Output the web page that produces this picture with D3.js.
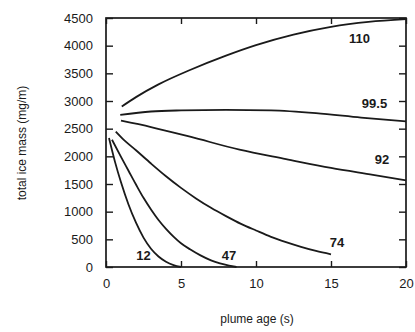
<!DOCTYPE html>
<html><head><meta charset="utf-8">
<script src="https://cdn.jsdelivr.net/npm/d3@7"></script>
<style>body{margin:0;background:#fff}svg{display:block}</style>
</head><body>
<svg id="c" width="415" height="332"></svg>
<script>
const xTicks = [0, 5, 10, 15, 20];
const yTicks = [0, 500, 1000, 1500, 2000, 2500, 3000, 3500, 4000, 4500];
const seriesNames = ["110", "99.5", "92", "74", "47", "12"];
const s110 = [[1.05,2900],[2,3070],[3.5,3300],[5.6,3560],[8,3820],[10,4010],[12.5,4200],[15,4340],[17.5,4430],[20,4480]];
const s99 = [[0.95,2750],[3,2810],[5,2830],[8,2840],[11,2830],[14,2780],[17,2700],[20,2630]];
const s92 = [[1.0,2645],[3,2530],[5.6,2355],[8.9,2120],[12,1950],[15,1790],[17.8,1665],[20,1565]];
const s74 = [[0.65,2445],[1.1,2320],[2,2110],[3,1870],[4,1640],[5,1430],[6,1240],[7,1070],[8,920],[9,780],[10,660],[11,545],[12,450],[13,365],[14,290],[15,230]];
const s47 = [[0.4,2300],[1,1990],[1.5,1740],[2,1490],[2.5,1250],[3,1040],[3.5,850],[4,690],[4.5,550],[5,430],[5.6,320],[6.3,210],[7,120],[7.6,65],[8.2,25],[8.7,0]];
const s12 = [[0.2,2330],[0.6,1900],[1,1530],[1.5,1130],[2,800],[2.5,530],[3,330],[3.5,190],[4,95],[4.5,35],[5,0]];
const seriesData = [s110, s99, s92, s74, s47, s12];
const labelPos = [[16.9,4050],[17.9,2870],[18.4,1860],[15.4,370],[8.2,130],[2.5,130]];

const svg = d3.select("#c");
const L=106, R=406, T=18, B=267;
const x = d3.scaleLinear().domain([0,20]).range([L,R]);
const y = d3.scaleLinear().domain([0,4500]).range([B,T]);
const ink = "#1a1a1a";
const font = "Arial, 'Liberation Sans', sans-serif";

svg.append("rect").attr("x",L).attr("y",T).attr("width",R-L).attr("height",B-T)
  .attr("fill","none").attr("stroke",ink).attr("stroke-width",1.7);

const ax = svg.append("g").attr("transform",`translate(0,${B})`)
  .call(d3.axisBottom(x).tickValues(xTicks).tickSize(-6).tickPadding(12).tickFormat(d3.format("d")));
const ay = svg.append("g").attr("transform",`translate(${L},0)`)
  .call(d3.axisLeft(y).tickValues(yTicks).tickSize(-7).tickPadding(13).tickFormat(d3.format("d")));
const axT = svg.append("g").attr("transform",`translate(0,${T})`)
  .call(d3.axisTop(x).tickValues(xTicks).tickSize(-6).tickFormat(""));
const ayR = svg.append("g").attr("transform",`translate(${R},0)`)
  .call(d3.axisRight(y).tickValues(yTicks).tickSize(-7).tickFormat(""));
[ax,ay,axT,ayR].forEach(g=>{
  g.select(".domain").remove();
  g.selectAll("line").attr("stroke",ink).attr("stroke-width",1.4);
  g.selectAll("text").attr("fill",ink).style("font-family",font).style("font-size","13px");
});

const line = d3.line().x(d=>x(d[0])).y(d=>y(d[1])).curve(d3.curveMonotoneX);
svg.append("g").selectAll("path").data(seriesData).join("path")
  .attr("d",line).attr("fill","none").attr("stroke",ink).attr("stroke-width",1.8);

svg.append("g").selectAll("text").data(seriesNames).join("text")
  .attr("x",(d,i)=>x(labelPos[i][0])).attr("y",(d,i)=>y(labelPos[i][1]))
  .attr("text-anchor","middle").attr("fill",ink)
  .style("font-family",font).style("font-size","13px").style("font-weight","bold")
  .text(d=>d);

svg.append("text").attr("x",257).attr("y",323).attr("text-anchor","middle")
  .attr("fill",ink).style("font-family",font).style("font-size","12px").text("plume age (s)");
svg.append("text").attr("transform","translate(26,143) rotate(-90)").attr("text-anchor","middle")
  .attr("fill",ink).style("font-family",font).style("font-size","12px").text("total ice mass (mg/m)");
</script>
</body></html>
